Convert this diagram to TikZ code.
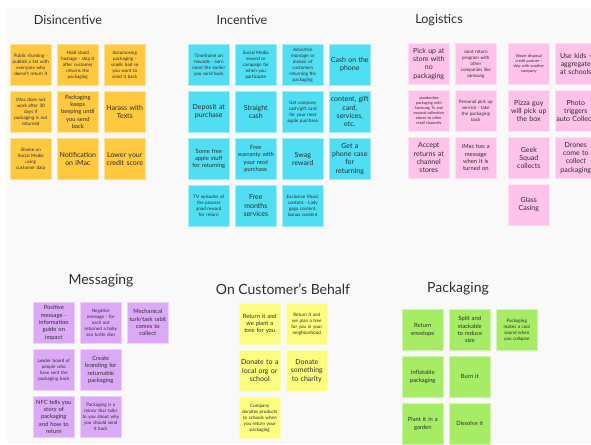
\documentclass[tikz,border=0pt]{standalone}
\usepackage{fontspec}
\setmainfont{Lato}
\definecolor{disc}{HTML}{FFC93F}
\definecolor{inc}{HTML}{4FDEF2}
\definecolor{logi}{HTML}{FFC2EA}
\definecolor{mess}{HTML}{DBA9F6}
\definecolor{cust}{HTML}{FCFC7E}
\definecolor{pack}{HTML}{A6EC64}
\definecolor{ink}{HTML}{2E2E2E}
\definecolor{board}{HTML}{F9F9F9}
\newcommand\szbig{\fontsize{7}{8.3}\selectfont}
\newcommand\szmid{\fontsize{5.8}{7.3}\selectfont}
\newcommand\szsml{\fontsize{4.6}{6}\selectfont}
\newcommand\sztny{\fontsize{3.9}{5}\selectfont}
\begin{document}
\begin{tikzpicture}[x=1pt,y=-1pt,
  note/.style={fill=#1, draw=#1!55!white, line width=.6pt, minimum size=41pt, inner sep=1pt,
    text width=39pt, align=center, anchor=north west, text=ink},
  head/.style={font=\fontsize{#1}{16}\selectfont, text=ink}, head/.default=14]
\useasboundingbox (0,0) rectangle (591,444);
\clip (0,0) rectangle (591,444);
\fill[board] (7,8) rectangle (591,444);
\node[head=12.6] (tdis) at (68,20) {Disincentive};
\node[head=12.6] (tinc) at (242,20) {Incentive};
\node[head=12.6] (tlog) at (439,20) {Logistics};
\node[head] (tmes) at (101,281) {Messaging};
\node[head] (tcus) at (283,289) {On Customer's Behalf};
\node[head] (tpac) at (458,289) {Packaging};
\foreach \c/\r/\fnt/\txt [count=\i] in {
  0/0/\szsml/{Public shaming -\\publish a list with\\everyone who\\doesn't return it},
  1/0/\szsml/{Hold stand\\hostage - ship it\\after customer\\returns the\\packaging},
  2/0/\szsml/{decomosing\\packaging -\\smells bad so\\you want to\\send it back},
  0/1/\szsml/{iMac does not\\work after 30\\days if\\packaging is not\\returned},
  1/1/\szmid/{Packaging\\keeps\\beeping until\\you send\\back},
  2/1/\szbig/{Harass with\\Texts},
  0/2/\szsml/{Shame on\\Social Media\\using\\customer data},
  1/2/\szbig/{Notification\\on iMac},
  2/2/\szbig/{Lower your\\credit score}}
  \node[note=disc, font=\fnt] (dis\i) at (10+47*\c,44+47*\r) {\txt};
\foreach \c/\r/\fnt/\txt [count=\i] in {
  0/0/\szsml/{Timeframe on\\rewards - earn\\more the earlier\\you send back},
  1/0/\szsml/{Social Media\\reward or\\campaign for\\when you\\particapte},
  2/0/\szsml/{Advertise\\montage or\\mosaic of\\customers\\returning the\\packaging},
  3/0/\szbig/{Cash on the\\phone},
  0/1/\szbig/{Deposit at\\purchase},
  1/1/\szbig/{Straight\\cash},
  2/1/\szsml/{Get company\\cash/gift card\\for your next\\apple purchase},
  3/1/\szbig/{content, gift\\card,\\services,\\etc.},
  0/2/\szmid/{Some free\\apple stuff\\for returning},
  1/2/\szmid/{Free\\warranty with\\your next\\purchase},
  2/2/\szbig/{Swag\\reward},
  3/2/\szbig/{Get a\\phone case\\for\\returning},
  0/3/\szsml/{TV episodes of\\the process\\anad reward\\for return},
  1/3/\szbig/{Free\\months\\services},
  2/3/\szsml/{Exclusive Music\\content - Lady\\gaga content,\\bonus content}}
  \node[note=inc, font=\fnt] (inc\i) at (188+47*\c,44+47*\r) {\txt};
\foreach \c/\r/\fnt/\txt [count=\i] in {
  0/0/\szbig/{Pick up at\\store with\\no\\packaging},
  1/0/\szsml/{Joint return\\program with\\other\\companies like\\samsung},
  2/0/\sztny/{Waste disposal\\credit partner -\\ship with another\\company},
  3/0/\szbig/{Use kids -\\aggregate\\at schools},
  0/1/\sztny/{standardize\\packaging with\\Samsung Tv and\\expand collection\\stores to other\\retail channels},
  1/1/\szsml/{Personal pick up\\service - take\\the packaging\\back},
  2/1/\szbig/{Pizza guy\\will pick up\\the box},
  3/1/\szbig/{Photo\\triggers\\\mbox{auto Collection}},
  0/2/\szbig/{Accept\\returns at\\channel\\stores},
  1/2/\szmid/{iMac has a\\message\\when it is\\turned on},
  2/2/\szbig/{Geek\\Squad\\collects},
  3/2/\szbig/{Drones\\come to\\collect\\packaging},
  2/3/\szbig/{Glass\\Casing}}
  \node[note=logi, font=\fnt] (log\i) at ({408+47*\c+6*(\c>1)},{43+47*\r}) {\txt};
\foreach \c/\r/\fnt/\txt [count=\i] in {
  0/0/\szmid/{Positive\\message -\\information\\guide on\\impact},
  1/0/\szsml/{Negative\\message - for\\each not\\returned a baby\\sea turtle dies},
  2/0/\szmid/{Mechanical\\turk/task rabit\\comes to\\collect},
  0/1/\szsml/{Leader board of\\people who\\have sent the\\packaging back},
  1/1/\szmid/{Create\\branding for\\returnable\\packaging},
  0/2/\szmid/{NFC tells you\\story of\\packaging\\and how to\\return},
  1/2/\szsml/{Packaging is a\\mirror that talks\\to you about why\\you should send\\it back}}
  \node[note=mess, font=\fnt] (mes\i) at (33+47*\c,302+47*\r) {\txt};
\foreach \c/\r/\fnt/\txt [count=\i] in {
  0/0/\szmid/{Return it and\\we plant a\\tree for you},
  1/0/\szsml/{Return it and\\we plan a tree\\for you in your\\neighborhood},
  0/1/\szbig/{Donate to a\\local org or\\school},
  1/1/\szbig/{Donate\\something\\to charity},
  0/2/\szsml/{Company\\donates products\\to schools when\\you return your\\packaging}}
  \node[note=cust, font=\fnt] (cus\i) at (239+47*\c,303+47*\r) {\txt};
\foreach \c/\r/\fnt/\txt [count=\i] in {
  0/0/\szmid/{Return\\envelope},
  1/0/\szmid/{Split and\\stackable\\to reduce\\size},
  2/0/\szsml/{Packaging\\makes a cool\\sound when\\you collapse},
  0/1/\szmid/{Inflatable\\packaging},
  1/1/\szmid/{Burn it},
  0/2/\szmid/{Plant it in a\\garden},
  1/2/\szmid/{Dissolve it}}
  \node[note=pack, font=\fnt] (pac\i) at (402+47*\c,309+47*\r) {\txt};
\end{tikzpicture}
\end{document}
